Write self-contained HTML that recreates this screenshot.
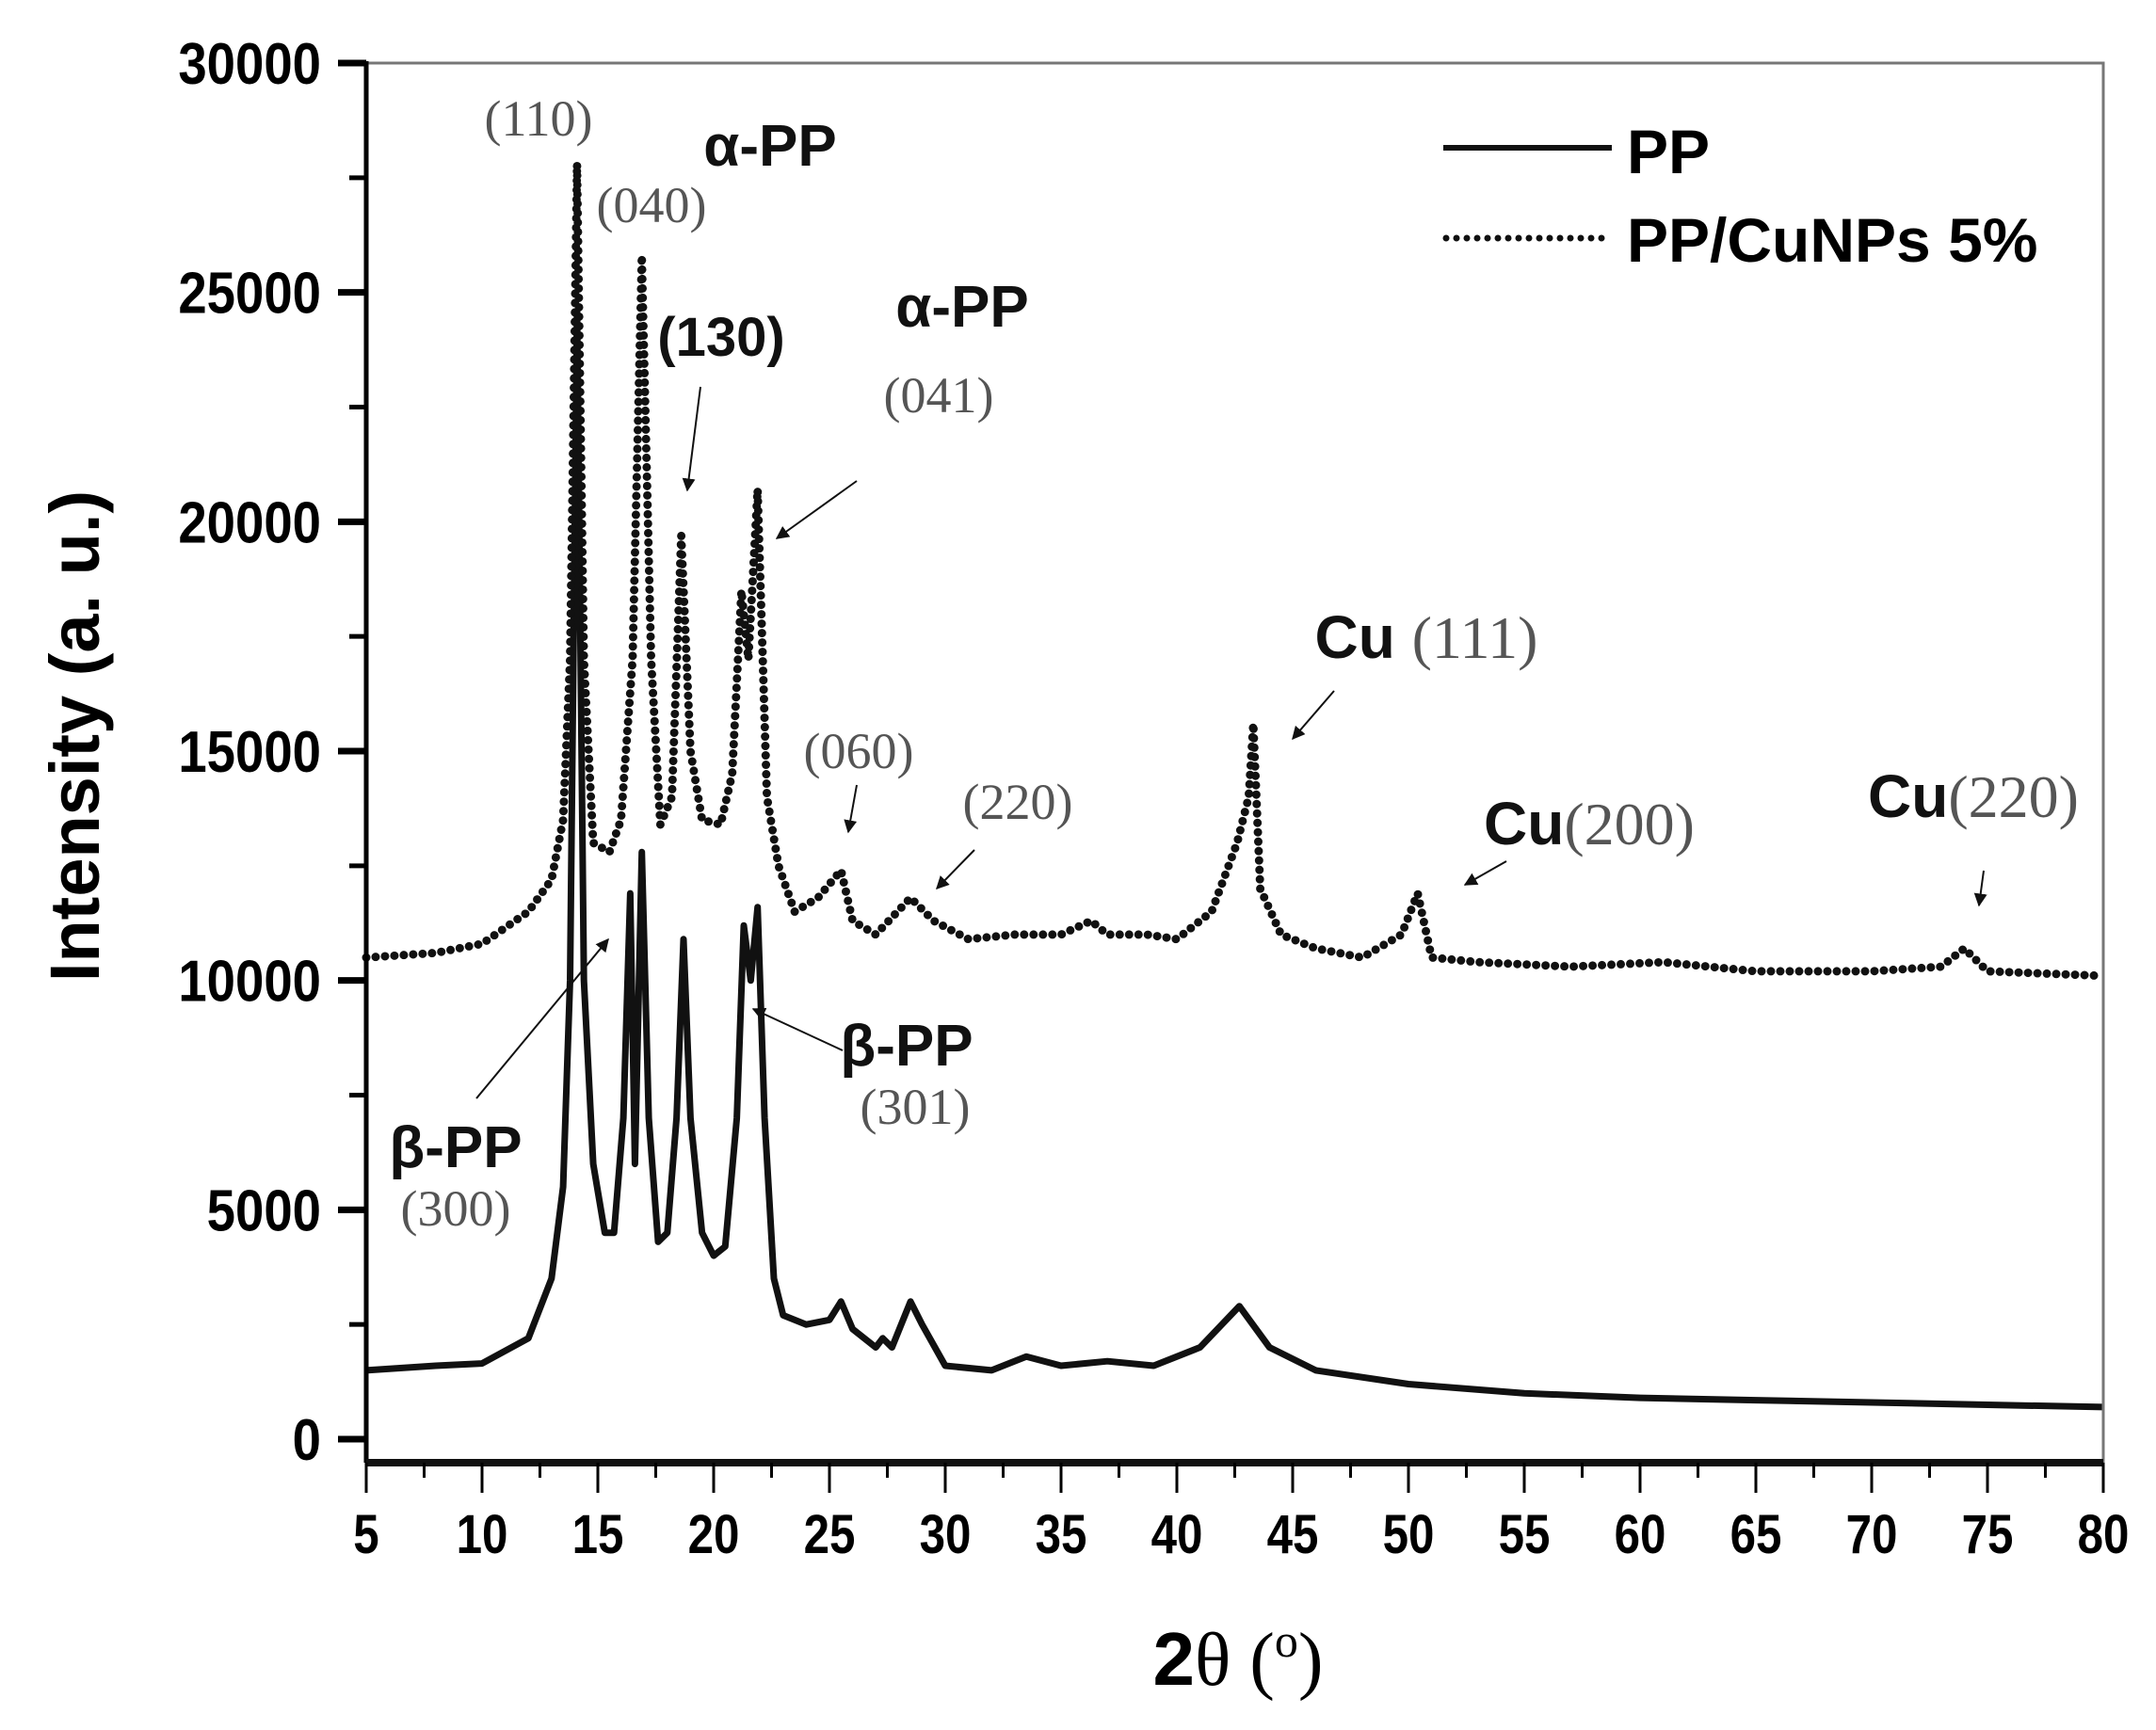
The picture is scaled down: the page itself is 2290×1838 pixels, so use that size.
<!DOCTYPE html>
<html><head><meta charset="utf-8"><style>
body{margin:0;background:#fff}
svg{display:block}
.tk{font-family:"Liberation Sans",sans-serif;font-weight:bold;fill:#000}
.sr{font-family:"Liberation Serif",serif;fill:#555}
.bd{font-family:"Liberation Sans",sans-serif;font-weight:bold;fill:#111}
</style></head><body>
<svg id="chart" width="2290" height="1838" viewBox="0 0 2290 1838" xmlns="http://www.w3.org/2000/svg">
<defs><marker id="ah" viewBox="0 0 10 10" refX="9" refY="5" markerWidth="7" markerHeight="7" orient="auto"><path d="M0,0 L10,5 L0,10 z" fill="#111"/></marker></defs>
<g id="plot"></g>
<g id="axes"></g>
<g>
<text class="sr" x="572" y="144" font-size="54" text-anchor="middle">(110)</text>
<text class="sr" x="692" y="236" font-size="54" text-anchor="middle">(040)</text>
<text class="bd" x="818" y="176" font-size="62" text-anchor="middle">α-PP</text>
<text class="bd" x="766" y="378" font-size="58" text-anchor="middle">(130)</text>
<line x1="744" y1="411" x2="730" y2="521" stroke="#111" stroke-width="2" marker-end="url(#ah)"/>
<text class="bd" x="1022" y="347" font-size="62" text-anchor="middle">α-PP</text>
<text class="sr" x="997" y="438" font-size="54" text-anchor="middle">(041)</text>
<line x1="910" y1="511" x2="825" y2="572" stroke="#111" stroke-width="2" marker-end="url(#ah)"/>
<text x="1515" y="699" font-size="64" text-anchor="middle"><tspan class="bd">Cu </tspan><tspan class="sr" fill="#222">(111)</tspan></text>
<line x1="1417" y1="734" x2="1373" y2="785" stroke="#111" stroke-width="2" marker-end="url(#ah)"/>
<text class="sr" x="912" y="816" font-size="54" text-anchor="middle">(060)</text>
<line x1="910" y1="834" x2="901" y2="884" stroke="#111" stroke-width="2" marker-end="url(#ah)"/>
<text class="sr" x="1081" y="870" font-size="54" text-anchor="middle">(220)</text>
<line x1="1035" y1="903" x2="995" y2="944" stroke="#111" stroke-width="2" marker-end="url(#ah)"/>
<text x="1688" y="897" font-size="64" text-anchor="middle"><tspan class="bd">Cu</tspan><tspan class="sr" fill="#222">(200)</tspan></text>
<line x1="1600" y1="915" x2="1556" y2="940" stroke="#111" stroke-width="2" marker-end="url(#ah)"/>
<text x="2096" y="868" font-size="64" text-anchor="middle"><tspan class="bd">Cu</tspan><tspan class="sr" fill="#222">(220)</tspan></text>
<line x1="2107" y1="925" x2="2102" y2="962" stroke="#111" stroke-width="2" marker-end="url(#ah)"/>
<text class="bd" x="963" y="1132" font-size="62" text-anchor="middle">β-PP</text>
<text class="sr" x="972" y="1194" font-size="54" text-anchor="middle">(301)</text>
<line x1="895" y1="1116" x2="800" y2="1072" stroke="#111" stroke-width="2" marker-end="url(#ah)"/>
<text class="bd" x="484" y="1240" font-size="62" text-anchor="middle">β-PP</text>
<text class="sr" x="484" y="1302" font-size="54" text-anchor="middle">(300)</text>
<line x1="506" y1="1167" x2="646" y2="998" stroke="#111" stroke-width="2" marker-end="url(#ah)"/>
</g>
<g>
<line x1="1533" y1="157" x2="1712" y2="157" stroke="#111" stroke-width="6"/>
<text class="tk" x="1728" y="184" font-size="66" font-weight="bold">PP</text>
<line x1="1536" y1="253" x2="1712" y2="253" stroke="#111" stroke-width="7" stroke-linecap="round" stroke-dasharray="0 11"/>
<text class="tk" x="1728" y="278" font-size="66">PP/CuNPs 5%</text>
</g>
<text class="tk" x="0" y="0" font-size="74" text-anchor="middle" transform="translate(105,782) rotate(-90)">Intensity (a. u.)</text>
<text x="1315" y="1790" font-size="80" text-anchor="middle"><tspan class="tk">2</tspan><tspan font-family="Liberation Serif,serif">θ (</tspan><tspan font-family="Liberation Serif,serif" font-size="50" dy="-30">o</tspan><tspan font-family="Liberation Serif,serif" dy="30">)</tspan></text>
</svg>
<script>
const xTicks=[5,10,15,20,25,30,35,40,45,50,55,60,65,70,75,80];
const yTicks=[0,5000,10000,15000,20000,25000,30000];
const ppX=[5,8,10,12,13,13.5,13.8,14.1,14.4,14.8,15.3,15.7,16.1,16.4,16.6,16.9,17.2,17.6,18.0,18.4,18.7,19.0,19.5,20,20.5,21.0,21.3,21.6,21.9,22.2,22.6,23,24,25,25.5,26,27,27.3,27.7,28.5,29,30,32,33.5,35,37,39,41,42.7,44,46,50,55,60,65,70,75,80];
const ppY=[1500,1600,1650,2200,3500,5500,10000,24600,10000,6000,4500,4500,7000,11900,6000,12800,7000,4300,4500,7000,10900,7000,4500,4000,4200,7000,11200,10000,11600,7000,3500,2700,2500,2600,3000,2400,2000,2200,2000,3000,2500,1600,1500,1800,1600,1700,1600,2000,2900,2000,1500,1200,1000,900,850,800,750,700];
const cuX=[5,8,10,12,13,13.5,13.8,14.1,14.4,14.8,15.5,16,16.5,16.9,17.3,17.7,18.2,18.6,19.0,19.5,20.3,20.8,21.2,21.5,21.9,22.3,22.8,23.5,24.5,25.5,26,27,28.5,29.5,31,33,35,36.3,37,38.7,40,41.5,42.6,43.1,43.3,43.6,44.5,46,48,49.7,50.4,51,53,57,61,65,70,73,74,75,80];
const cuY=[10500,10600,10800,11500,12200,13500,17000,27800,17000,13000,12800,13500,17000,25800,17000,13400,14000,19700,15000,13500,13400,14500,18500,17000,20700,14000,12500,11500,11800,12400,11300,11000,11800,11300,10900,11000,11000,11300,11000,11000,10900,11500,13000,14000,15600,12000,11000,10700,10500,11000,11900,10500,10400,10300,10400,10200,10200,10300,10700,10200,10100];
const L=389,R=2234,T=67,B0=1529,BA=1554;
const sx=v=>L+(v-5)/75*(R-L);
const sy=v=>B0-v/30000*(B0-T);
const NS="http://www.w3.org/2000/svg";
function mk(t,a,p){const e=document.createElementNS(NS,t);for(const k in a)e.setAttribute(k,a[k]);p.appendChild(e);return e;}
const plot=document.getElementById('plot'),axes=document.getElementById('axes');
function pathD(xs,ys){return xs.map((x,i)=>(i?'L':'M')+sx(x).toFixed(1)+','+sy(ys[i]).toFixed(1)).join(' ');}
const p1=mk('path',{d:pathD(ppX,ppY),fill:'none',stroke:'#111','stroke-width':7,'stroke-linejoin':'round'},plot);


const p2=mk('path',{d:pathD(cuX,cuY),fill:'none',stroke:'#111','stroke-width':9,'stroke-linecap':'round','stroke-dasharray':'0 10'},plot);


const fr=mk('path',{d:`M${L},${T} L${R},${T} L${R},${BA}`,fill:'none',stroke:'#777','stroke-width':3},axes);


const ya=mk('line',{x1:L,y1:T-2,x2:L,y2:BA,stroke:'#000','stroke-width':5},axes);


const xa=mk('line',{x1:L,y1:BA,x2:R,y2:BA,stroke:'#111','stroke-width':8},axes);


for(let v=0;v<=30000;v+=2500){const major=v%5000===0;
const t=mk('line',{x1:L-(major?30:18),y1:sy(v),x2:L,y2:sy(v),stroke:'#000','stroke-width':major?7:5},axes);

}
yTicks.forEach(v=>{const t=mk('text',{x:L-48,y:sy(v)+22,'text-anchor':'end','font-size':62,class:'tk',transform:`translate(${L-48},0) scale(0.88,1) translate(${-(L-48)},0)`},axes);t.textContent=v;

});
for(let v=5;v<=80;v+=2.5){const major=v%5===0;
const t=mk('line',{x1:sx(v),y1:BA,x2:sx(v),y2:BA+(major?32:16),stroke:'#000','stroke-width':3},axes);

}
xTicks.forEach(v=>{const t=mk('text',{x:sx(v),y:1650,'text-anchor':'middle','font-size':58,class:'tk',transform:`translate(${sx(v)},0) scale(0.85,1) translate(${-sx(v)},0)`},axes);t.textContent=v;

});
</script>
</body></html>
